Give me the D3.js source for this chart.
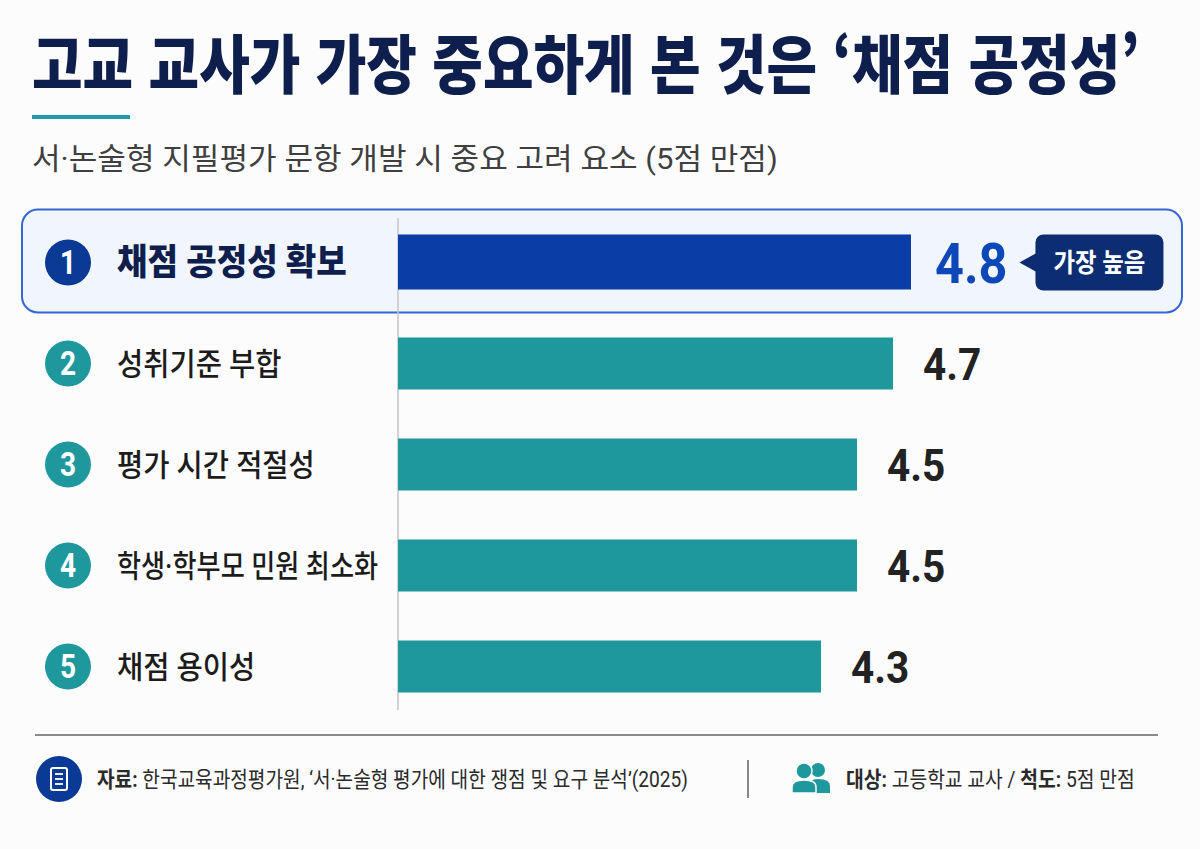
<!DOCTYPE html>
<html lang="ko">
<head>
<meta charset="utf-8">
<script src="https://cdn.jsdelivr.net/npm/d3@7"></script>
<style>
  html, body { margin: 0; padding: 0; background: #fcfcfd; }
  svg { display: block; font-family: Roboto, "Noto Sans CJK KR", "Noto Sans", sans-serif; }
</style>
</head>
<body>
<div id="chart"></div>
<script>
// data
const ranks = [1, 2, 3, 4, 5];
const factors = ["채점 공정성 확보", "성취기준 부합", "평가 시간 적절성", "학생·학부모 민원 최소화", "채점 용이성"];
const scores = [4.8, 4.7, 4.5, 4.5, 4.3];
const title = "고교 교사가 가장 중요하게 본 것은 ‘채점 공정성’";
const subtitle = "서·논술형 지필평가 문항 개발 시 중요 고려 요소 (5점 만점)";
const badgeText = "가장 높음";
const sourceLabel = "자료:";
const sourceText = " 한국교육과정평가원, ‘서·논술형 평가에 대한 쟁점 및 요구 분석’(2025)";
const targetLabel = "대상:";
const targetText = " 고등학교 교사 / ";
const scaleLabel = "척도:";
const scaleText = " 5점 만점";

const width = 1200;
const height = 849;
const navy = "#0f1f4d";
const blue = "#0a3ea6";
const teal = "#1e989c";

const data = factors.map((f, i) => ({rank: ranks[i], name: f, value: scores[i]}));

const svg = d3.select("#chart").append("svg")
    .attr("width", width)
    .attr("height", height);

const x = d3.scaleLinear()
    .domain([1.95, 5])
    .range([398, 947]);

const y = d3.scaleBand()
    .domain(factors)
    .range([212, 717])
    .paddingInner(0.485)
    .paddingOuter(0.2425);

// squeeze a single-run text to look like the condensed face in the picture
function squeeze(sel, k, maxW = Infinity) {
    sel.each(function() {
        const w = Math.min(this.getComputedTextLength() * k, maxW);
        d3.select(this).attr("textLength", w).attr("lengthAdjust", "spacingAndGlyphs");
    });
}

// place a text group at (px, py) and scale it horizontally to a given width
function fitWidth(g, px, py, w) {
    const bw = g.node().getBBox().width;
    g.attr("transform", `translate(${px},${py}) scale(${w / bw},1)`);
}

// title block
const tg = svg.append("g");
tg.append("text")
    .attr("font-size", 64).attr("font-weight", 900)
    .attr("font-family", "Noto Sans CJK KR")
    .attr("fill", navy)
    .text(title);
fitWidth(tg, 32, 88, 1108);

svg.append("rect")
    .attr("x", 32).attr("y", 115)
    .attr("width", 98).attr("height", 4)
    .attr("fill", "#1f9aa8");

const sg = svg.append("g");
sg.append("text")
    .attr("font-size", 30).attr("font-weight", 400)
    .attr("fill", "#3f3f3f")
    .text(subtitle);
fitWidth(sg, 32, 169, 746);

// highlight box around the top item
const top0 = y(factors[0]);
svg.append("rect")
    .attr("x", 22).attr("y", top0 - 27)
    .attr("width", 1160).attr("height", y.bandwidth() + 51)
    .attr("rx", 16)
    .attr("fill", "#f1f5fd")
    .attr("stroke", "#3566d6")
    .attr("stroke-width", 2);

// axis line
svg.append("line")
    .attr("x1", x.range()[0]).attr("x2", x.range()[0])
    .attr("y1", 218).attr("y2", 710)
    .attr("stroke", "#c4c4c4").attr("stroke-width", 1.5);

const row = svg.append("g").selectAll("g")
    .data(data)
    .join("g");

row.append("rect")
    .attr("x", x.range()[0])
    .attr("y", d => y(d.name) - (d.rank === 1 ? 2 : 0))
    .attr("width", d => x(d.value) - x.range()[0])
    .attr("height", d => y.bandwidth() + (d.rank === 1 ? 3 : 0))
    .attr("fill", d => d.rank === 1 ? blue : teal);

row.append("circle")
    .attr("cx", 68)
    .attr("cy", d => y(d.name) + y.bandwidth() / 2)
    .attr("r", 23)
    .attr("fill", d => d.rank === 1 ? "#0b3a96" : teal);

row.append("text")
    .attr("x", 68)
    .attr("y", d => y(d.name) + y.bandwidth() / 2)
    .attr("dy", "0.36em")
    .attr("text-anchor", "middle")
    .attr("font-size", 33).attr("font-weight", 700)
    .attr("fill", "#fff")
    .text(d => d.rank)
    .call(squeeze, 0.85);

row.append("text")
    .attr("x", 117)
    .attr("y", d => y(d.name) + y.bandwidth() / 2)
    .attr("dy", "0.36em")
    .attr("font-size", d => d.rank === 1 ? 36 : 31)
    .attr("font-weight", d => d.rank === 1 ? 900 : 500)
    .attr("fill", d => d.rank === 1 ? navy : "#1c1c1c")
    .text(d => d.name)
    .call(squeeze, 0.92, 261);

const vals = row.append("text")
    .attr("x", d => x(d.value) + (d.rank === 1 ? 24 : 30))
    .attr("y", d => y(d.name) + y.bandwidth() / 2)
    .attr("dy", "0.36em")
    .attr("font-size", d => d.rank === 1 ? 56 : 45)
    .attr("font-weight", 700)
    .attr("fill", d => d.rank === 1 ? "#0d47b8" : "#222")
    .text(d => d.value.toFixed(1))
    .call(squeeze, 0.9);

// "가장 높음" badge next to the top value
const best = data[0];
const bestNode = vals.filter(d => d.rank === 1).node();
const bx = x(best.value) + 24 + +bestNode.getAttribute("textLength") + 28;
const bcy = y(best.name) + y.bandwidth() / 2;
const badge = svg.append("g");
badge.append("path")
    .attr("d", `M${bx - 16},${bcy} L${bx + 2},${bcy - 10} L${bx + 2},${bcy + 10} Z`)
    .attr("fill", "#0c2d72");
badge.append("rect")
    .attr("x", bx).attr("y", bcy - 28)
    .attr("width", 128).attr("height", 56)
    .attr("rx", 8)
    .attr("fill", "#0c2d72");
badge.append("text")
    .attr("x", bx + 64).attr("y", bcy)
    .attr("dy", "0.36em")
    .attr("text-anchor", "middle")
    .attr("font-size", 26).attr("font-weight", 700)
    .attr("fill", "#fff")
    .text(badgeText)
    .call(squeeze, 0.9);

// footer
svg.append("line")
    .attr("x1", 35).attr("x2", 1158)
    .attr("y1", 735).attr("y2", 735)
    .attr("stroke", "#8a8a8a").attr("stroke-width", 2);

const doc = svg.append("g").attr("transform", "translate(59,779)");
doc.append("circle").attr("r", 23).attr("fill", "#0b3a96");
doc.append("rect")
    .attr("x", -8).attr("y", -11).attr("width", 16).attr("height", 22).attr("rx", 2)
    .attr("fill", "none").attr("stroke", "#fff").attr("stroke-width", 2);
doc.selectAll("line.l")
    .data([-5, 0, 5])
    .join("line")
    .attr("x1", -4).attr("x2", 4)
    .attr("y1", d => d).attr("y2", d => d)
    .attr("stroke", "#fff").attr("stroke-width", 1.8);

const srcG = svg.append("g");
const src = srcG.append("text")
    .attr("dy", "0.36em")
    .attr("font-size", 22)
    .attr("fill", "#2a2a2a");
src.append("tspan").attr("font-weight", 700).text(sourceLabel);
src.append("tspan").text(sourceText);
fitWidth(srcG, 97, 779, 591);

svg.append("line")
    .attr("x1", 748).attr("x2", 748)
    .attr("y1", 760).attr("y2", 798)
    .attr("stroke", "#888").attr("stroke-width", 2);

// people icon
const ppl = svg.append("g").attr("transform", "translate(792,762)").attr("fill", teal);
ppl.append("circle").attr("cx", 26).attr("cy", 8).attr("r", 7);
ppl.append("path").attr("d", "M17,31 L17,24 Q17,17 26,17 Q38,17 38,24 L38,31 Z");
ppl.append("circle").attr("cx", 12).attr("cy", 9).attr("r", 8).attr("stroke", "#fcfcfd").attr("stroke-width", 1.5);
ppl.append("path").attr("d", "M0,31 L0,25 Q0,18 12,18 Q24,18 24,25 L24,31 Z").attr("stroke", "#fcfcfd").attr("stroke-width", 1.5);

const tgtG = svg.append("g");
const tgt = tgtG.append("text")
    .attr("dy", "0.36em")
    .attr("font-size", 22)
    .attr("fill", "#2a2a2a");
tgt.append("tspan").attr("font-weight", 700).text(targetLabel);
tgt.append("tspan").text(targetText);
tgt.append("tspan").attr("font-weight", 700).text(scaleLabel);
tgt.append("tspan").text(scaleText);
fitWidth(tgtG, 846, 779, 289);
</script>
</body>
</html>
